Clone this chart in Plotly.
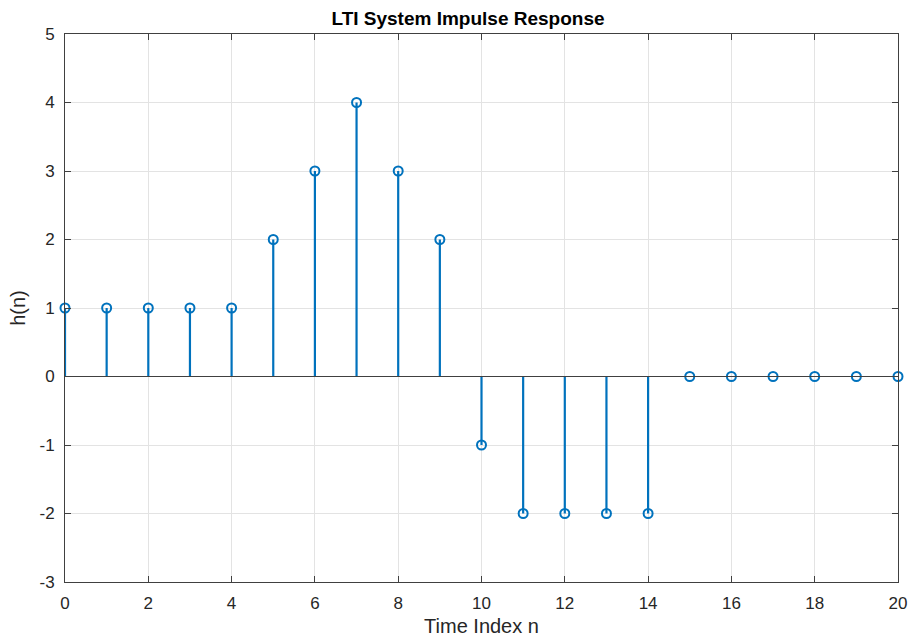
import plotly.graph_objects as go

n = list(range(21))
h = [1, 1, 1, 1, 1, 2, 3, 4, 3, 2, -1, -2, -2, -2, -2, 0, 0, 0, 0, 0, 0]
x_ticks = list(range(0, 21, 2))
y_ticks = list(range(-3, 6))
y_tick_text = [str(v) for v in y_ticks]

stem_x, stem_y = [], []
for xi, yi in zip(n, h):
    stem_x += [xi, xi, None]
    stem_y += [0, yi, None]

blue = "#0072BD"
axc = "#262626"
fam = "Liberation Sans, Arial, sans-serif"

fig = go.Figure()
fig.add_trace(go.Scatter(x=stem_x, y=stem_y, mode="lines",
                         line=dict(color=blue, width=2.2), hoverinfo="skip",
                         showlegend=False, cliponaxis=False))
fig.add_trace(go.Scatter(x=n, y=h, mode="markers",
                         marker=dict(symbol="circle-open", size=9, color=blue,
                                     line=dict(width=2, color=blue)),
                         showlegend=False, cliponaxis=False))
fig.add_shape(type="line", xref="paper", yref="y", x0=0, x1=1, y0=0, y1=0,
              line=dict(color="#404040", width=1.2), layer="above")

axis_common = dict(showgrid=True, gridcolor="#e3e3e3", gridwidth=1,
                   zeroline=False, showline=True, linecolor="#404040",
                   linewidth=1, mirror="ticks", ticks="inside", ticklen=6,
                   tickcolor="#404040", automargin=False,
                   tickfont=dict(size=17, color=axc, family=fam))

fig.update_xaxes(range=[0, 20], tickvals=x_ticks, ticklabelstandoff=6,
                 **axis_common,
                 title=dict(text="Time Index n", standoff=6,
                            font=dict(size=20, color=axc, family=fam)))
fig.update_yaxes(range=[-3, 5], tickvals=y_ticks, ticktext=y_tick_text,
                 ticklabelstandoff=6, **axis_common,
                 title=dict(text="h(n)", standoff=8,
                            font=dict(size=20, color=axc, family=fam)))

fig.update_layout(
    width=909, height=637,
    margin=dict(l=65, r=11, t=34, b=55),
    paper_bgcolor="white", plot_bgcolor="white",
    title=dict(text="<b>LTI System Impulse Response</b>", x=468 / 909,
               xref="container", xanchor="center", y=1 - 18 / 637,
               yanchor="middle", automargin=False,
               font=dict(size=19, color="black", family=fam)),
)

fig.write_html("out.html", config={"displayModeBar": False},
               post_script="document.body.style.margin='0';document.body.style.padding='0';")
